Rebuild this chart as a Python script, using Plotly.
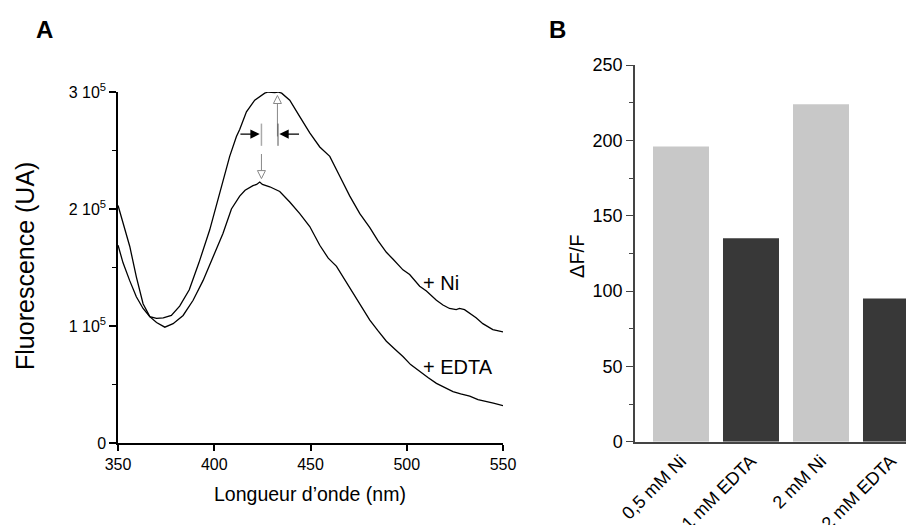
import plotly.graph_objects as go

# Spectre de fluorescence (panneau A)
nm_ni = [350, 352.6, 356, 359.5, 363, 366.5, 370, 373.5, 377.7, 382, 387, 392, 397.6, 401, 404,
         408, 411.5, 413.2, 416.7, 421, 426.2, 428, 431.4, 433, 435, 439.2, 444.4, 449.6, 454.8,
         460, 465.2, 470.4, 475.6, 480.8, 485, 489.4, 492.9, 498, 501.5, 506.7, 510.2, 515.4,
         518.8, 522.2, 525.7, 527.4, 530, 532.7, 536, 539.5, 544.7, 550]
fluo_ni = [1.69, 1.54, 1.39, 1.25, 1.15, 1.08, 1.065, 1.07, 1.09, 1.17, 1.31, 1.54, 1.82, 2.02, 2.22,
           2.45, 2.62, 2.68, 2.83, 2.93, 2.99, 3.0, 2.995, 3.0, 2.99, 2.93, 2.79, 2.65, 2.53,
           2.45, 2.28, 2.11, 1.96, 1.84, 1.73, 1.63, 1.57, 1.48, 1.44, 1.34, 1.30, 1.22,
           1.18, 1.15, 1.14, 1.15, 1.14, 1.11, 1.07, 1.02, 0.97, 0.95]

nm_edta = [350, 352.6, 356.1, 359.5, 363, 366.5, 370, 374.3, 378.6, 383.8, 389, 394.2, 399.4, 404.5,
           408.9, 413.2, 416, 420.1, 422, 423.6, 425, 428.8, 434, 439.2, 444.4, 449.6, 454.8,
           459.2, 463.5, 468, 472.1, 476, 480.8, 485, 489.4, 494, 498, 502, 506.7, 511, 515.4,
           520, 524, 528, 532.7, 537, 541.4, 545, 550]
fluo_edta = [2.03, 1.88, 1.68, 1.42, 1.19, 1.08, 1.03, 0.99, 1.02, 1.09, 1.22, 1.39, 1.59, 1.79,
             2.0, 2.11, 2.16, 2.2, 2.21, 2.23, 2.21, 2.19, 2.15, 2.06, 1.96, 1.85, 1.69,
             1.58, 1.51, 1.39, 1.28, 1.17, 1.05, 0.96, 0.87, 0.80, 0.74, 0.67, 0.61, 0.56, 0.51,
             0.47, 0.44, 0.42, 0.40, 0.37, 0.35, 0.34, 0.32]

# Delta F / F (panneau B)
conditions = ["0,5 mM Ni", "1 mM EDTA", "2 mM Ni", "2 mM EDTA"]
delta_f = [196, 135, 224, 95]
bar_colors = ["#c8c8c8", "#383838", "#c8c8c8", "#383838"]

FONT = "Liberation Sans, Arial, sans-serif"

fig = go.Figure()

fig.add_trace(go.Scatter(x=nm_ni, y=[v * 1e5 for v in fluo_ni], mode="lines",
                         line=dict(color="black", width=1.3), xaxis="x", yaxis="y"))
fig.add_trace(go.Scatter(x=nm_edta, y=[v * 1e5 for v in fluo_edta], mode="lines",
                         line=dict(color="black", width=1.3), xaxis="x", yaxis="y"))

# pointes de fleches grises (ouvertes)
fig.add_trace(go.Scatter(x=[432.8], y=[2.97e5], mode="markers",
                         marker=dict(symbol="arrow-up-open", size=8, color="#888",
                                     line=dict(width=1, color="#888")),
                         xaxis="x", yaxis="y"))
fig.add_trace(go.Scatter(x=[424.5], y=[2.26e5], mode="markers",
                         marker=dict(symbol="arrow-down-open", size=8, color="#888",
                                     line=dict(width=1, color="#888")),
                         xaxis="x", yaxis="y"))

fig.add_trace(go.Bar(x=conditions, y=delta_f, marker=dict(color=bar_colors, line=dict(width=0)),
                     xaxis="x2", yaxis="y2"))

# traits des fleches
fig.add_shape(type="line", xref="x", yref="y", x0=432.8, x1=432.8, y0=2.62e5, y1=2.90e5,
              line=dict(color="#888", width=1))
fig.add_shape(type="line", xref="x", yref="y", x0=424.5, x1=424.5, y0=2.47e5, y1=2.33e5,
              line=dict(color="#888", width=1))
fig.add_shape(type="line", xref="x", yref="y", x0=424.5, x1=424.5, y0=2.54e5, y1=2.73e5,
              line=dict(color="#aaa", width=1.5))
fig.add_shape(type="line", xref="x", yref="y", x0=433.1, x1=433.1, y0=2.54e5, y1=2.73e5,
              line=dict(color="#555", width=1))

fig.add_annotation(xref="x", yref="y", axref="x", ayref="y", x=423.6, y=2.64e5, ax=412.8, ay=2.64e5,
                   text="", showarrow=True, arrowhead=2, arrowsize=1.7, arrowwidth=1.1, arrowcolor="black")
fig.add_annotation(xref="x", yref="y", axref="x", ayref="y", x=433.8, y=2.64e5, ax=444.8, ay=2.64e5,
                   text="", showarrow=True, arrowhead=2, arrowsize=1.7, arrowwidth=1.1, arrowcolor="black")

txt = dict(showarrow=False, font=dict(family=FONT, size=20, color="black"))
fig.add_annotation(xref="x", yref="y", x=507.6, y=1.37e5, text="+ Ni", xanchor="left", **txt)
fig.add_annotation(xref="x", yref="y", x=507.2, y=0.65e5, text="+ EDTA", xanchor="left", **txt)

lbl = dict(xref="paper", yref="paper", xanchor="center", yanchor="middle", showarrow=False)
fig.add_annotation(x=0.3304, y=0.0743, text="Longueur d’onde (nm)",
                   font=dict(family=FONT, size=19.5, color="black"), **lbl)
fig.add_annotation(x=0.0186, y=0.5086, text="Fluorescence (UA)", textangle=-90,
                   font=dict(family=FONT, size=25, color="black"), **lbl)
fig.add_annotation(x=0.6225, y=0.5276, text="ΔF/F", textangle=-90,
                   font=dict(family=FONT, size=20, color="black"), **lbl)
fig.add_annotation(x=0.0394, y=0.96, text="<b>A</b>",
                   font=dict(family=FONT, size=24, color="black"), **lbl)
fig.add_annotation(x=0.6007, y=0.96, text="<b>B</b>",
                   font=dict(family=FONT, size=24, color="black"), **lbl)

fig.update_layout(
    template="none",
    width=914, height=525,
    margin=dict(l=0, r=0, t=0, b=0, pad=0),
    paper_bgcolor="white", plot_bgcolor="white",
    showlegend=False,
    font=dict(family=FONT, color="black"),
    xaxis=dict(domain=[0.1204, 0.5416], range=[350, 550], tickvals=[350, 400, 450, 500, 550],
               showline=True, linecolor="black", linewidth=1.5, ticks="outside", ticklen=6,
               tickwidth=1.5, tickcolor="black", showgrid=False, zeroline=False,
               tickfont=dict(size=16), anchor="y", automargin=False),
    yaxis=dict(domain=[0.1714, 0.84], range=[0, 3e5], tickvals=[0, 1e5, 2e5, 3e5],
               ticktext=["0", "1 10<sup>5</sup>", "2 10<sup>5</sup>", "3 10<sup>5</sup>"],
               showline=True, linecolor="black", linewidth=1.5, ticks="outside", ticklen=7,
               tickwidth=1.5, tickcolor="black", showgrid=False, zeroline=False,
               tickfont=dict(size=16), anchor="x", automargin=False,
               minor=dict(tickmode="array", tickvals=[5e4, 1.5e5, 2.5e5], ticks="outside",
                          ticklen=4, tickwidth=1, tickcolor="black", showgrid=False)),
    xaxis2=dict(domain=[0.686, 1.0], range=[-0.657, 3.443], tickangle=-45,
                showline=True, linecolor="#444", linewidth=1.5, ticks="", showgrid=False,
                zeroline=False, tickfont=dict(size=18), anchor="y2",
                automargin=False),
    yaxis2=dict(domain=[0.1739, 0.8914], range=[0, 250], tickvals=[0, 50, 100, 150, 200, 250],
                showline=True, linecolor="#444", linewidth=1.5, ticks="outside", ticklen=7,
                tickwidth=1.2, tickcolor="#444", showgrid=False, zeroline=False,
                tickfont=dict(size=18), anchor="x2", automargin=False,
                minor=dict(tickmode="array", tickvals=[25, 75, 125, 175, 225], ticks="outside",
                           ticklen=4, tickwidth=1, tickcolor="#444", showgrid=False)),
    bargap=0.2,
)

fig.write_html("out.html")
